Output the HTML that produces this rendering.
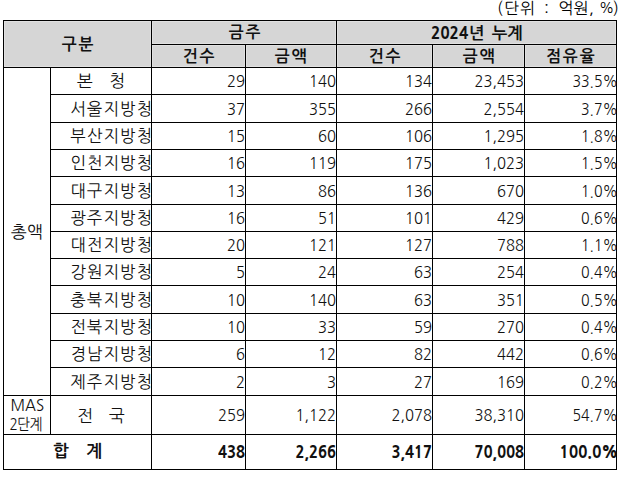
<!DOCTYPE html>
<html lang="ko"><head><meta charset="utf-8"><title>table</title>
<style>
html,body{margin:0;padding:0;background:#fff;}
body{width:622px;height:478px;position:relative;overflow:hidden;}
.l{position:absolute;background:#000;}
.t{position:absolute;white-space:nowrap;color:#111;line-height:1;}
.cell{position:absolute;display:flex;align-items:center;white-space:nowrap;color:#111;line-height:1;}
.cell.r{justify-content:flex-end;}
.cell.c{justify-content:center;}
.cell span{display:block;}
.k{font-family:"NanumGothic","Noto Sans CJK KR",sans-serif;font-size:17px;}
.n{font-family:"NanumGothic","Noto Sans CJK KR",sans-serif;font-size:16.5px;}
.n span{transform:scaleX(0.9);transform-origin:right center;}
.b{font-weight:800;}
.h{font-family:"NanumGothic","Noto Sans CJK KR",sans-serif;font-size:16.5px;font-weight:bold;}
</style></head><body>
<div style="position:absolute;left:3px;top:20px;width:614px;height:48px;background:#d6d6d6"></div>

<div style="position:absolute;left:2px;top:20px;width:3px;height:48px;background:#e1e1e1"></div>
<div style="position:absolute;left:49px;top:67px;width:3px;height:1px;background:#e1e1e1"></div>
<div style="position:absolute;left:150px;top:20px;width:3px;height:48px;background:#e1e1e1"></div>
<div style="position:absolute;left:244px;top:44px;width:3px;height:24px;background:#e1e1e1"></div>
<div style="position:absolute;left:335px;top:20px;width:3px;height:48px;background:#e1e1e1"></div>
<div style="position:absolute;left:431px;top:44px;width:3px;height:24px;background:#e1e1e1"></div>
<div style="position:absolute;left:523px;top:44px;width:3px;height:24px;background:#e1e1e1"></div>
<div style="position:absolute;left:615px;top:20px;width:3px;height:48px;background:#e1e1e1"></div>
<div style="position:absolute;left:3px;top:19px;width:614px;height:3px;background:#e1e1e1"></div>
<div style="position:absolute;left:151px;top:43px;width:466px;height:3px;background:#e1e1e1"></div>
<div style="position:absolute;left:3px;top:66px;width:614px;height:3px;background:#e1e1e1"></div>
<div style="position:absolute;left:0;top:0;width:622px;height:20px;background:#fff"></div>
<div style="position:absolute;left:0;top:68px;width:622px;height:2px;background:#fff"></div>
<div style="position:absolute;left:0;top:20px;width:3px;height:48px;background:#fff"></div>
<div style="position:absolute;left:617px;top:20px;width:5px;height:48px;background:#fff"></div>
<div class="l" style="left:3px;top:20px;width:1px;height:450px"></div>
<div class="l" style="left:50px;top:67px;width:1px;height:367px"></div>
<div class="l" style="left:151px;top:20px;width:1px;height:450px"></div>
<div class="l" style="left:245px;top:44px;width:1px;height:426px"></div>
<div class="l" style="left:336px;top:20px;width:1px;height:450px"></div>
<div class="l" style="left:432px;top:44px;width:1px;height:426px"></div>
<div class="l" style="left:524px;top:44px;width:1px;height:426px"></div>
<div class="l" style="left:616px;top:20px;width:1px;height:450px"></div>
<div class="l" style="left:3px;top:20px;width:614px;height:1px"></div>
<div class="l" style="left:151px;top:44px;width:466px;height:1px"></div>
<div class="l" style="left:3px;top:67px;width:614px;height:1px"></div>
<div class="l" style="left:50px;top:94px;width:567px;height:1px"></div>
<div class="l" style="left:50px;top:122px;width:567px;height:1px"></div>
<div class="l" style="left:50px;top:149px;width:567px;height:1px"></div>
<div class="l" style="left:50px;top:176px;width:567px;height:1px"></div>
<div class="l" style="left:50px;top:204px;width:567px;height:1px"></div>
<div class="l" style="left:50px;top:231px;width:567px;height:1px"></div>
<div class="l" style="left:50px;top:258px;width:567px;height:1px"></div>
<div class="l" style="left:50px;top:285px;width:567px;height:1px"></div>
<div class="l" style="left:50px;top:313px;width:567px;height:1px"></div>
<div class="l" style="left:50px;top:340px;width:567px;height:1px"></div>
<div class="l" style="left:50px;top:367px;width:567px;height:1px"></div>
<div class="l" style="left:3px;top:395px;width:614px;height:1px"></div>
<div class="l" style="left:3px;top:434px;width:614px;height:1px"></div>
<div class="l" style="left:3px;top:469px;width:614px;height:1px"></div>
<div class="t" style="left:497px;top:0px;font-family:NanumGothic,sans-serif;font-size:16px;line-height:17px;color:#000;">(</div>
<div class="t" style="left:504px;top:0px;font-family:NanumGothic,sans-serif;font-size:16px;line-height:17px;color:#000;letter-spacing:1px;">단위</div>
<div class="t" style="left:544px;top:0px;font-family:NanumGothic,sans-serif;font-size:16px;line-height:17px;color:#000;">:</div>
<div class="t" style="left:558.5px;top:0px;font-family:NanumGothic,sans-serif;font-size:16px;line-height:17px;color:#000;">억원</div>
<div class="t" style="left:589px;top:0px;font-family:NanumGothic,sans-serif;font-size:16px;line-height:17px;color:#000;">,</div>
<div class="t" style="left:599px;top:0px;font-family:NanumGothic,sans-serif;font-size:14px;line-height:17px;color:#000;">%</div>
<div class="t" style="left:613px;top:0px;font-family:NanumGothic,sans-serif;font-size:16px;line-height:17px;color:#000;">)</div>
<div class="cell h c" style="left:4.5px;width:148px;top:20.5px;height:47px"><span style="letter-spacing:2px;transform:scaleX(0.96)">구분</span></div>
<div class="cell h c" style="left:153px;width:185px;top:20.5px;height:24px"><span style="letter-spacing:2px;transform:scaleX(0.96)">금주</span></div>
<div class="cell h c" style="left:337px;width:280px;top:21px;height:24px"><span style=""><b style="font-weight:800;display:inline-block;transform:scaleX(0.93);transform-origin:left center;margin-right:-2.7px">2024</b>년<span style="display:inline-block;width:7.5px"></span>누계</span></div>
<div class="cell h c" style="left:152.5px;width:94px;top:44.5px;height:23px"><span style="letter-spacing:2px;transform:scaleX(0.96)">건수</span></div>
<div class="cell h c" style="left:246.5px;width:91px;top:44.5px;height:23px"><span style="letter-spacing:2px;transform:scaleX(0.96)">금액</span></div>
<div class="cell h c" style="left:337.5px;width:96px;top:44.5px;height:23px"><span style="letter-spacing:2px;transform:scaleX(0.96)">건수</span></div>
<div class="cell h c" style="left:433.5px;width:92px;top:44.5px;height:23px"><span style="letter-spacing:2px;transform:scaleX(0.96)">금액</span></div>
<div class="cell h c" style="left:525.5px;width:92px;top:44.5px;height:23px"><span style="letter-spacing:2px;transform:scaleX(0.96)">점유율</span></div>
<div class="cell k c" style="left:3.5px;width:47px;top:67px;height:328px"><span style="">총액</span></div>
<div class="cell c" style="left:3.5px;width:47px;top:397.2px;height:18px"><span style="font-family:NanumGothic,sans-serif;font-size:15.5px;transform:scaleX(0.97)">MAS</span></div>
<div class="cell k c" style="left:2px;width:47px;top:414px;height:19px"><span style="font-size:16px;letter-spacing:-1px;transform:scaleX(0.86)">2단계</span></div>
<div class="cell k" style="left:77px;width:23px;top:67.5px;height:26px"><span style="">본</span></div>
<div class="cell k" style="left:109px;width:21px;top:67.5px;height:26px"><span style="">청</span></div>
<div class="cell n r" style="left:152.0px;width:93px;top:68.5px;height:26px"><span style="">29</span></div>
<div class="cell n r" style="left:246.0px;width:90px;top:68.5px;height:26px"><span style="">140</span></div>
<div class="cell n r" style="left:337.0px;width:95px;top:68.5px;height:26px"><span style="">134</span></div>
<div class="cell n r" style="left:433.0px;width:91px;top:68.5px;height:26px"><span style="">23,453</span></div>
<div class="cell n r" style="left:527.0px;width:91px;top:68.5px;height:26px"><span style="transform:scaleX(0.86)">33.5%</span></div>
<div class="cell k r" style="left:51.7px;width:100px;top:94.5px;height:27px"><span style="letter-spacing:1.2px;transform:scaleX(0.96);transform-origin:right center;margin-right:-1.2px">서울지방청</span></div>
<div class="cell n r" style="left:152.0px;width:93px;top:95.5px;height:27px"><span style="">37</span></div>
<div class="cell n r" style="left:246.0px;width:90px;top:95.5px;height:27px"><span style="">355</span></div>
<div class="cell n r" style="left:337.0px;width:95px;top:95.5px;height:27px"><span style="">266</span></div>
<div class="cell n r" style="left:433.0px;width:91px;top:95.5px;height:27px"><span style="">2,554</span></div>
<div class="cell n r" style="left:527.0px;width:91px;top:95.5px;height:27px"><span style="transform:scaleX(0.86)">3.7%</span></div>
<div class="cell k r" style="left:51.7px;width:100px;top:122.5px;height:26px"><span style="letter-spacing:1.2px;transform:scaleX(0.96);transform-origin:right center;margin-right:-1.2px">부산지방청</span></div>
<div class="cell n r" style="left:152.0px;width:93px;top:123.5px;height:26px"><span style="">15</span></div>
<div class="cell n r" style="left:246.0px;width:90px;top:123.5px;height:26px"><span style="">60</span></div>
<div class="cell n r" style="left:337.0px;width:95px;top:123.5px;height:26px"><span style="">106</span></div>
<div class="cell n r" style="left:433.0px;width:91px;top:123.5px;height:26px"><span style="">1,295</span></div>
<div class="cell n r" style="left:527.0px;width:91px;top:123.5px;height:26px"><span style="transform:scaleX(0.86)">1.8%</span></div>
<div class="cell k r" style="left:51.7px;width:100px;top:149.5px;height:26px"><span style="letter-spacing:1.2px;transform:scaleX(0.96);transform-origin:right center;margin-right:-1.2px">인천지방청</span></div>
<div class="cell n r" style="left:152.0px;width:93px;top:150.5px;height:26px"><span style="">16</span></div>
<div class="cell n r" style="left:246.0px;width:90px;top:150.5px;height:26px"><span style="">119</span></div>
<div class="cell n r" style="left:337.0px;width:95px;top:150.5px;height:26px"><span style="">175</span></div>
<div class="cell n r" style="left:433.0px;width:91px;top:150.5px;height:26px"><span style="">1,023</span></div>
<div class="cell n r" style="left:527.0px;width:91px;top:150.5px;height:26px"><span style="transform:scaleX(0.86)">1.5%</span></div>
<div class="cell k r" style="left:51.7px;width:100px;top:176.5px;height:27px"><span style="letter-spacing:1.2px;transform:scaleX(0.96);transform-origin:right center;margin-right:-1.2px">대구지방청</span></div>
<div class="cell n r" style="left:152.0px;width:93px;top:177.5px;height:27px"><span style="">13</span></div>
<div class="cell n r" style="left:246.0px;width:90px;top:177.5px;height:27px"><span style="">86</span></div>
<div class="cell n r" style="left:337.0px;width:95px;top:177.5px;height:27px"><span style="">136</span></div>
<div class="cell n r" style="left:433.0px;width:91px;top:177.5px;height:27px"><span style="">670</span></div>
<div class="cell n r" style="left:527.0px;width:91px;top:177.5px;height:27px"><span style="transform:scaleX(0.86)">1.0%</span></div>
<div class="cell k r" style="left:51.7px;width:100px;top:204.5px;height:26px"><span style="letter-spacing:1.2px;transform:scaleX(0.96);transform-origin:right center;margin-right:-1.2px">광주지방청</span></div>
<div class="cell n r" style="left:152.0px;width:93px;top:205.5px;height:26px"><span style="">16</span></div>
<div class="cell n r" style="left:246.0px;width:90px;top:205.5px;height:26px"><span style="">51</span></div>
<div class="cell n r" style="left:337.0px;width:95px;top:205.5px;height:26px"><span style="">101</span></div>
<div class="cell n r" style="left:433.0px;width:91px;top:205.5px;height:26px"><span style="">429</span></div>
<div class="cell n r" style="left:527.0px;width:91px;top:205.5px;height:26px"><span style="transform:scaleX(0.86)">0.6%</span></div>
<div class="cell k r" style="left:51.7px;width:100px;top:231.5px;height:26px"><span style="letter-spacing:1.2px;transform:scaleX(0.96);transform-origin:right center;margin-right:-1.2px">대전지방청</span></div>
<div class="cell n r" style="left:152.0px;width:93px;top:232.5px;height:26px"><span style="">20</span></div>
<div class="cell n r" style="left:246.0px;width:90px;top:232.5px;height:26px"><span style="">121</span></div>
<div class="cell n r" style="left:337.0px;width:95px;top:232.5px;height:26px"><span style="">127</span></div>
<div class="cell n r" style="left:433.0px;width:91px;top:232.5px;height:26px"><span style="">788</span></div>
<div class="cell n r" style="left:527.0px;width:91px;top:232.5px;height:26px"><span style="transform:scaleX(0.86)">1.1%</span></div>
<div class="cell k r" style="left:51.7px;width:100px;top:258.5px;height:26px"><span style="letter-spacing:1.2px;transform:scaleX(0.96);transform-origin:right center;margin-right:-1.2px">강원지방청</span></div>
<div class="cell n r" style="left:152.0px;width:93px;top:259.5px;height:26px"><span style="">5</span></div>
<div class="cell n r" style="left:246.0px;width:90px;top:259.5px;height:26px"><span style="">24</span></div>
<div class="cell n r" style="left:337.0px;width:95px;top:259.5px;height:26px"><span style="">63</span></div>
<div class="cell n r" style="left:433.0px;width:91px;top:259.5px;height:26px"><span style="">254</span></div>
<div class="cell n r" style="left:527.0px;width:91px;top:259.5px;height:26px"><span style="transform:scaleX(0.86)">0.4%</span></div>
<div class="cell k r" style="left:51.7px;width:100px;top:285.5px;height:27px"><span style="letter-spacing:1.2px;transform:scaleX(0.96);transform-origin:right center;margin-right:-1.2px">충북지방청</span></div>
<div class="cell n r" style="left:152.0px;width:93px;top:286.5px;height:27px"><span style="">10</span></div>
<div class="cell n r" style="left:246.0px;width:90px;top:286.5px;height:27px"><span style="">140</span></div>
<div class="cell n r" style="left:337.0px;width:95px;top:286.5px;height:27px"><span style="">63</span></div>
<div class="cell n r" style="left:433.0px;width:91px;top:286.5px;height:27px"><span style="">351</span></div>
<div class="cell n r" style="left:527.0px;width:91px;top:286.5px;height:27px"><span style="transform:scaleX(0.86)">0.5%</span></div>
<div class="cell k r" style="left:51.7px;width:100px;top:313.5px;height:26px"><span style="letter-spacing:1.2px;transform:scaleX(0.96);transform-origin:right center;margin-right:-1.2px">전북지방청</span></div>
<div class="cell n r" style="left:152.0px;width:93px;top:314.5px;height:26px"><span style="">10</span></div>
<div class="cell n r" style="left:246.0px;width:90px;top:314.5px;height:26px"><span style="">33</span></div>
<div class="cell n r" style="left:337.0px;width:95px;top:314.5px;height:26px"><span style="">59</span></div>
<div class="cell n r" style="left:433.0px;width:91px;top:314.5px;height:26px"><span style="">270</span></div>
<div class="cell n r" style="left:527.0px;width:91px;top:314.5px;height:26px"><span style="transform:scaleX(0.86)">0.4%</span></div>
<div class="cell k r" style="left:51.7px;width:100px;top:340.5px;height:26px"><span style="letter-spacing:1.2px;transform:scaleX(0.96);transform-origin:right center;margin-right:-1.2px">경남지방청</span></div>
<div class="cell n r" style="left:152.0px;width:93px;top:341.5px;height:26px"><span style="">6</span></div>
<div class="cell n r" style="left:246.0px;width:90px;top:341.5px;height:26px"><span style="">12</span></div>
<div class="cell n r" style="left:337.0px;width:95px;top:341.5px;height:26px"><span style="">82</span></div>
<div class="cell n r" style="left:433.0px;width:91px;top:341.5px;height:26px"><span style="">442</span></div>
<div class="cell n r" style="left:527.0px;width:91px;top:341.5px;height:26px"><span style="transform:scaleX(0.86)">0.6%</span></div>
<div class="cell k r" style="left:51.7px;width:100px;top:367.5px;height:27px"><span style="letter-spacing:1.2px;transform:scaleX(0.96);transform-origin:right center;margin-right:-1.2px">제주지방청</span></div>
<div class="cell n r" style="left:152.0px;width:93px;top:368.5px;height:27px"><span style="">2</span></div>
<div class="cell n r" style="left:246.0px;width:90px;top:368.5px;height:27px"><span style="">3</span></div>
<div class="cell n r" style="left:337.0px;width:95px;top:368.5px;height:27px"><span style="">27</span></div>
<div class="cell n r" style="left:433.0px;width:91px;top:368.5px;height:27px"><span style="">169</span></div>
<div class="cell n r" style="left:527.0px;width:91px;top:368.5px;height:27px"><span style="transform:scaleX(0.86)">0.2%</span></div>
<div class="cell k" style="left:77px;width:23px;top:396.5px;height:38px"><span style="">전</span></div>
<div class="cell k" style="left:109px;width:21px;top:396.5px;height:38px"><span style="">국</span></div>
<div class="cell n r" style="left:152.0px;width:93px;top:396.5px;height:38px"><span style="">259</span></div>
<div class="cell n r" style="left:246.0px;width:90px;top:396.5px;height:38px"><span style="">1,122</span></div>
<div class="cell n r" style="left:337.0px;width:95px;top:396.5px;height:38px"><span style="">2,078</span></div>
<div class="cell n r" style="left:433.0px;width:91px;top:396.5px;height:38px"><span style="">38,310</span></div>
<div class="cell n r" style="left:527.0px;width:91px;top:396.5px;height:38px"><span style="transform:scaleX(0.86)">54.7%</span></div>
<div class="cell k" style="left:53px;width:27px;top:434.5px;height:34px"><span style="font-weight:700">합</span></div>
<div class="cell k" style="left:86px;width:24px;top:434.5px;height:34px"><span style="font-weight:700">계</span></div>
<div class="cell n r b" style="left:152.0px;width:93px;top:435.5px;height:34px"><span style="">438</span></div>
<div class="cell n r b" style="left:246.0px;width:90px;top:435.5px;height:34px"><span style="">2,266</span></div>
<div class="cell n r b" style="left:337.0px;width:95px;top:435.5px;height:34px"><span style="">3,417</span></div>
<div class="cell n r b" style="left:433.0px;width:91px;top:435.5px;height:34px"><span style="">70,008</span></div>
<div class="cell n r b" style="left:526.5px;width:91px;top:435.5px;height:34px"><span style="transform:scaleX(0.93)">100.0%</span></div>
</body></html>
